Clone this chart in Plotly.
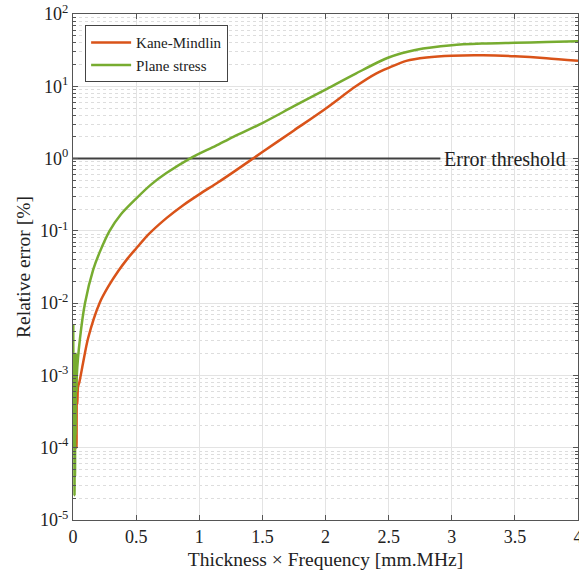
import plotly.graph_objects as go

# Plane stress (green)
ps_x = [0.002, 0.004, 0.006, 0.008, 0.010, 0.012, 0.014, 0.016, 0.018, 0.020, 0.024, 0.028,
        0.03, 0.055, 0.095, 0.16, 0.21, 0.29, 0.38, 0.5, 0.62, 0.74, 0.925, 1.13, 1.27,
        1.5, 1.75, 2.0, 2.24, 2.5, 2.72, 3.0, 3.25, 3.5, 3.75, 4.0]
ps_y = [5e-3, 3e-4, 2e-3, 1e-4, 8e-4, 2.2e-5, 6e-4, 4e-5, 1e-3, 1.5e-4, 2e-3, 6e-4,
        1e-3, 3.2e-3, 1e-2, 2.9e-2, 5e-2, 0.1, 0.17, 0.28, 0.44, 0.63, 1.0, 1.5, 2.0,
        3.1, 5.3, 9.0, 15, 25, 32, 37, 39, 40, 41, 42]

# Kane-Mindlin (orange)
km_x = [0.020, 0.022, 0.024, 0.026, 0.028, 0.030, 0.034, 0.04, 0.05, 0.08, 0.12, 0.21,
        0.28, 0.36, 0.43, 0.5, 0.6, 0.74, 0.87, 1.0, 1.15, 1.27, 1.5, 1.75,
        2.0, 2.24, 2.4, 2.5, 2.64, 2.8, 3.0, 3.25, 3.5, 3.75, 4.0]
km_y = [8e-4, 2e-4, 1e-3, 3e-4, 1e-4, 6e-4, 4e-4, 7e-4, 8e-4, 1.5e-3, 3.3e-3, 1e-2,
        1.7e-2, 2.8e-2, 4.1e-2, 5.7e-2, 9e-2, 0.15, 0.225, 0.32, 0.47, 0.65, 1.23, 2.45,
        4.9, 10, 15, 18, 22.5, 25, 26.5, 26.8, 26, 24.5, 22.5]

thr_x = [0.0, 2.91]
thr_y = [1.0, 1.0]

y_tickvals = [1e-5, 1e-4, 1e-3, 1e-2, 1e-1, 1, 10, 100]
y_ticktext = ["10<sup>-5</sup>", "10<sup>-4</sup>", "10<sup>-3</sup>", "10<sup>-2</sup>",
              "10<sup>-1</sup>", "10<sup>0</sup>", "10<sup>1</sup>", "10<sup>2</sup>"]

FONT = "Liberation Serif"
AX = "#555555"
TXT = "#222222"

fig = go.Figure()
fig.add_trace(go.Scatter(x=thr_x, y=thr_y, mode="lines", line=dict(color="#404040", width=2),
                         showlegend=False, hoverinfo="skip"))
fig.add_trace(go.Scatter(x=km_x, y=km_y, mode="lines", name="Kane-Mindlin",
                         line=dict(color="#D95319", width=2.5, shape="spline", smoothing=0.8)))
fig.add_trace(go.Scatter(x=ps_x, y=ps_y, mode="lines", name="Plane stress",
                         line=dict(color="#77AC30", width=2.5, shape="spline", smoothing=0.8)))

fig.add_annotation(x=2.92, y=0, xref="x", yref="y", text="Error threshold", showarrow=False,
                   xanchor="left", yanchor="middle", font=dict(family=FONT, size=20, color=TXT))

fig.update_layout(
    width=579, height=576,
    margin=dict(l=73, r=1, t=14, b=56),
    paper_bgcolor="white", plot_bgcolor="white",
    font=dict(family=FONT, size=18, color=TXT),
    legend=dict(x=0.024, y=0.978, xanchor="left", yanchor="top",
                bgcolor="white", bordercolor="#444444", borderwidth=1,
                font=dict(family=FONT, size=15, color=TXT), itemwidth=40,
                tracegroupgap=0),
    showlegend=True,
)
fig.update_xaxes(
    range=[0, 4], dtick=0.5, automargin=False, ticklabeloverflow="allow",
    showline=True, linecolor=AX, linewidth=1, mirror="ticks",
    ticks="inside", ticklen=5, tickcolor=AX,
    tickfont=dict(family=FONT, size=18, color=TXT),
    showgrid=True, gridcolor="#e3e3e3", gridwidth=1, zeroline=False,
    title=dict(text="Thickness × Frequency [mm.MHz]", font=dict(family=FONT, size=19.5, color=TXT), standoff=6),
)
fig.update_yaxes(
    type="log", range=[-5, 2], automargin=False,
    tickvals=y_tickvals, ticktext=y_ticktext,
    showline=True, linecolor=AX, linewidth=1, mirror="ticks",
    ticks="inside", ticklen=5, tickcolor=AX,
    tickfont=dict(family=FONT, size=18, color=TXT),
    showgrid=True, gridcolor="#e3e3e3", gridwidth=1, zeroline=False,
    minor=dict(dtick="D1", ticks="inside", ticklen=3, tickcolor=AX,
               showgrid=True, gridcolor="#dddddd", griddash="dot"),
    title=dict(text="Relative error [%]", font=dict(family=FONT, size=19.5, color=TXT), standoff=4),
)
fig.write_html("out.html", config={"displayModeBar": False},
               post_script="document.body.style.margin='0';document.body.style.overflow='hidden';")
